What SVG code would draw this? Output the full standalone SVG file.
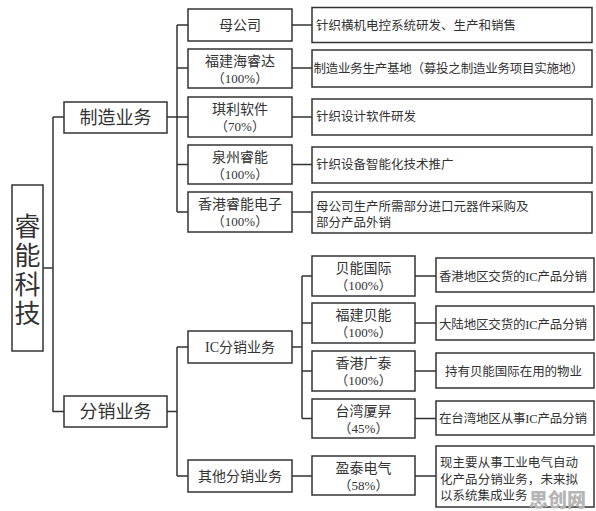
<svg xmlns="http://www.w3.org/2000/svg" width="596" height="511" viewBox="0 0 596 511">
<style>
rect.b{fill:#fff;stroke:#333;stroke-width:1.5}
#connectors path{fill:none;stroke:#333;stroke-width:1.5}
text{font-family:"Liberation Serif","Noto Sans CJK SC",serif;fill:#333}
.c{text-anchor:middle}
.n{font-size:14px}
.p{font-size:13px}
.d{font-size:12.5px}
.l{font-size:18px}
.wm{font-family:"Noto Sans CJK SC",sans-serif;font-weight:900;font-size:19px;fill:#b5b5b5}
</style>
<rect width="596" height="511" fill="#fff"/>
<g id="connectors">
<path d="M43,268H53M53,117V412M53,117H64M53,411.5H64"/>
<path d="M167,117H177M177,25V212M177,25H188M177,68H188M177,117H188M177,164.5H188M177,212H188"/>
<path d="M292,25H312M292,68H312M292,117H312M292,164.5H312M292,212H312"/>
<path d="M167,411.5H177M177,347V476M177,347H188M177,476H188"/>
<path d="M292,347H302M302,276V418.5M302,276H312M302,323H312M302,371H312M302,418.5H312"/>
<path d="M415,276H436M415,323H436M415,371H436M415,418.5H436"/>
<path d="M292,476H312M415,476H436"/>
</g>
<g id="root"><rect class="b" x="12" y="185" width="31" height="166"/>
<text class="c" x="27.5" y="236" font-size="26">睿</text>
<text class="c" x="27.5" y="265" font-size="26">能</text>
<text class="c" x="27.5" y="294" font-size="26">科</text>
<text class="c" x="27.5" y="323" font-size="26">技</text></g>
<g id="mfg"><rect class="b" x="64" y="102" width="103" height="31"/><text class="c l" x="115.5" y="124">制造业务</text></g>
<g id="dist"><rect class="b" x="64" y="396" width="103" height="31"/><text class="c l" x="115.5" y="418">分销业务</text></g>
<g id="n1"><rect class="b" x="188" y="9" width="104" height="32"/><text class="c n" x="240" y="30">母公司</text></g>
<g id="n2"><rect class="b" x="188" y="49" width="104" height="39"/><text class="c n" x="240" y="66">福建海睿达</text><text class="c p" x="240" y="83">（100%）</text></g>
<g id="n3"><rect class="b" x="188" y="97" width="104" height="40"/><text class="c n" x="240" y="114">琪利软件</text><text class="c p" x="240" y="131">（70%）</text></g>
<g id="n4"><rect class="b" x="188" y="145" width="104" height="39"/><text class="c n" x="240" y="162">泉州睿能</text><text class="c p" x="240" y="179">（100%）</text></g>
<g id="n5"><rect class="b" x="188" y="192" width="104" height="40"/><text class="c n" x="240" y="209">香港睿能电子</text><text class="c p" x="240" y="226">（100%）</text></g>
<g id="d1"><rect class="b" x="312" y="7.5" width="280" height="35"/><text class="d" x="316" y="29.5" textLength="200">针织横机电控系统研发、生产和销售</text></g>
<g id="d2"><rect class="b" x="312" y="50" width="280" height="37"/><text class="d" x="313.5" y="73" textLength="270">制造业务生产基地（募投之制造业务项目实施地）</text></g>
<g id="d3"><rect class="b" x="312" y="99" width="280" height="36"/><text class="d" x="316" y="121">针织设计软件研发</text></g>
<g id="d4"><rect class="b" x="312" y="147" width="280" height="36"/><text class="d" x="316" y="169">针织设备智能化技术推广</text></g>
<g id="d5"><rect class="b" x="312" y="192" width="280" height="41"/><text class="d" x="316" y="211">母公司生产所需部分进口元器件采购及</text><text class="d" x="316" y="227">部分产品外销</text></g>
<g id="ic"><rect class="b" x="188" y="331" width="104" height="32"/><text class="c n" x="240" y="352">IC分销业务</text></g>
<g id="other"><rect class="b" x="188" y="460" width="104" height="32"/><text class="c n" x="240" y="481">其他分销业务</text></g>
<g id="s1"><rect class="b" x="312" y="256" width="103" height="40"/><text class="c n" x="363.5" y="273">贝能国际</text><text class="c p" x="363.5" y="290">（100%）</text></g>
<g id="s2"><rect class="b" x="312" y="303" width="103" height="40"/><text class="c n" x="363.5" y="320">福建贝能</text><text class="c p" x="363.5" y="337">（100%）</text></g>
<g id="s3"><rect class="b" x="312" y="351" width="103" height="40"/><text class="c n" x="363.5" y="368">香港广泰</text><text class="c p" x="363.5" y="385">（100%）</text></g>
<g id="s4"><rect class="b" x="312" y="399" width="103" height="39"/><text class="c n" x="363.5" y="416">台湾厦昇</text><text class="c p" x="363.5" y="433">（45%）</text></g>
<g id="s5"><rect class="b" x="312" y="456" width="103" height="39"/><text class="c n" x="363.5" y="473">盈泰电气</text><text class="c p" x="363.5" y="490">（58%）</text></g>
<g id="e1"><rect class="b" x="436" y="258" width="158" height="34"/><text class="d" x="439" y="281" font-size="13" textLength="148">香港地区交货的IC产品分销</text></g>
<g id="e2"><rect class="b" x="436" y="306" width="158" height="34"/><text class="d" x="439" y="328.5" font-size="13" textLength="148">大陆地区交货的IC产品分销</text></g>
<g id="e3"><rect class="b" x="436" y="353" width="158" height="35"/><text class="d" x="445" y="376" textLength="137">持有贝能国际在用的物业</text></g>
<g id="e4"><rect class="b" x="436" y="401" width="158" height="34"/><text class="d" x="439" y="423" font-size="13" textLength="148">在台湾地区从事IC产品分销</text></g>
<g id="e5"><rect class="b" x="436" y="446" width="158" height="61"/><text class="d" x="440" y="467" textLength="138">现主要从事工业电气自动</text><text class="d" x="440" y="483.5" textLength="138">化产品分销业务，未来拟</text><text class="d" x="440" y="500">以系统集成业务</text></g>
<text class="wm" x="529" y="506.5">思创网</text>
</svg>
